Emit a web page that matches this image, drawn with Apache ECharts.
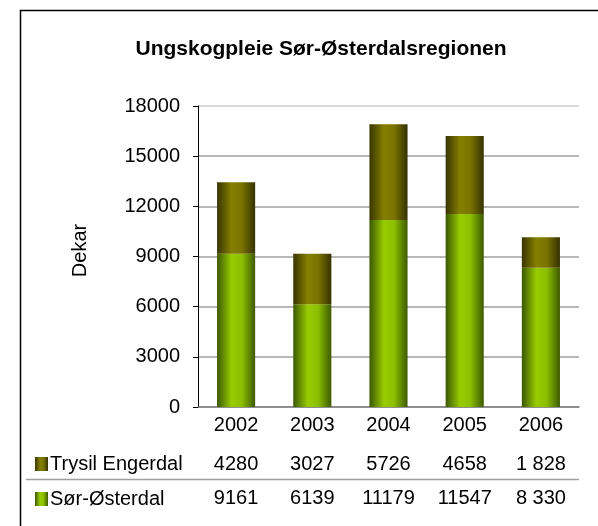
<!DOCTYPE html>
<html>
<head>
<meta charset="utf-8">
<script src="https://cdn.jsdelivr.net/npm/echarts@6/dist/echarts.min.js"></script>
<style>
  html, body { margin: 0; padding: 0; background: #fff; }
  #chart { width: 598px; height: 526px; }
</style>
</head>
<body>
<div id="chart"></div>
<script>
var years = ['2002', '2003', '2004', '2005', '2006'];
var trysil = [4280, 3027, 5726, 4658, 1828];
var sorOsterdal = [9161, 6139, 11179, 11547, 8330];
// table text as printed in the source (some with thousands space)
var trysilText = ['4280', '3027', '5726', '4658', '1 828'];
var sorText = ['9161', '6139', '11179', '11547', '8 330'];

var font = 'Liberation Sans, Arial, sans-serif';

var greenFill = new echarts.graphic.LinearGradient(0, 0, 1, 0, [
  { offset: 0, color: '#3b5800' },
  { offset: 0.38, color: '#99cc00' },
  { offset: 0.65, color: '#8cbf00' },
  { offset: 1, color: '#3d5a00' }
]);
var oliveFill = new echarts.graphic.LinearGradient(0, 0, 1, 0, [
  { offset: 0, color: '#383500' },
  { offset: 0.38, color: '#857f00' },
  { offset: 0.65, color: '#7a7400' },
  { offset: 1, color: '#363200' }
]);

var chart = echarts.init(document.getElementById('chart'));

function tableAxis(texts, offset) {
  return {
    type: 'category',
    data: years,
    position: 'bottom',
    offset: offset,
    axisLine: { show: false },
    axisTick: { show: false },
    axisLabel: {
      color: '#000', fontFamily: font, fontSize: 20, margin: 7,
      formatter: function (v, i) { return texts[i]; }
    }
  };
}

var option = {
  animation: false,
  title: {
    text: 'Ungskogpleie Sør-Østerdalsregionen',
    left: 316,
    top: 34,
    textAlign: 'center',
    textStyle: { fontFamily: font, fontSize: 21, fontWeight: 'bold', color: '#000' }
  },
  legend: {
    orient: 'vertical',
    left: 30,
    top: 449,
    itemWidth: 13,
    itemHeight: 14,
    itemGap: 15,
    icon: 'rect',
    data: ['Trysil Engerdal', 'Sør-Østerdal'],
    textStyle: { fontFamily: font, fontSize: 20, color: '#000', padding: [0, 0, 0, -3] }
  },
  grid: { left: 198, right: 19, top: 106, bottom: 119 },
  xAxis: [
    {
      type: 'category',
      data: years,
      axisLine: { show: true, lineStyle: { color: '#808080', width: 1.5 } },
      axisTick: { show: false },
      axisLabel: { color: '#000', fontFamily: font, fontSize: 20, margin: 8 }
    },
    tableAxis(trysilText, 40),
    tableAxis(sorText, 74)
  ],
  yAxis: {
    type: 'value',
    min: 0,
    max: 18000,
    interval: 3000,
    name: 'Dekar',
    nameLocation: 'middle',
    nameGap: 108,
    nameTextStyle: { fontFamily: font, fontSize: 20, color: '#000', padding: [0, 0, 0, 12] },
    axisLine: { show: true, lineStyle: { color: '#000', width: 1 } },
    axisTick: { show: true, length: 5, lineStyle: { color: '#000' } },
    axisLabel: {
      color: '#000', fontFamily: font, fontSize: 20, margin: 18,
      formatter: function (v) { return String(v); }
    },
    splitLine: { show: true, lineStyle: { color: ['#a0a0a0', '#a0a0a0', '#a0a0a0', '#a0a0a0', '#a0a0a0', '#a0a0a0', '#cccccc'], width: 1.5 } }
  },
  series: [
    {
      name: 'Sør-Østerdal',
      type: 'bar',
      stack: 'total',
      barWidth: '50%',
      data: sorOsterdal,
      itemStyle: { color: greenFill }
    },
    {
      name: 'Trysil Engerdal',
      type: 'bar',
      stack: 'total',
      barWidth: '50%',
      data: trysil,
      itemStyle: { color: oliveFill }
    }
  ],
  graphic: [
    {
      type: 'rect',
      shape: { x: 20.5, y: 10.5, width: 700, height: 700 },
      style: { fill: 'none', stroke: '#000', lineWidth: 1.5 },
      silent: true
    },
    {
      type: 'line',
      shape: { x1: 26, y1: 479.5, x2: 579, y2: 479.5 },
      style: { stroke: '#a0a0a0', lineWidth: 1.5 },
      silent: true
    }
  ]
};
chart.setOption(option);
</script>
</body>
</html>
